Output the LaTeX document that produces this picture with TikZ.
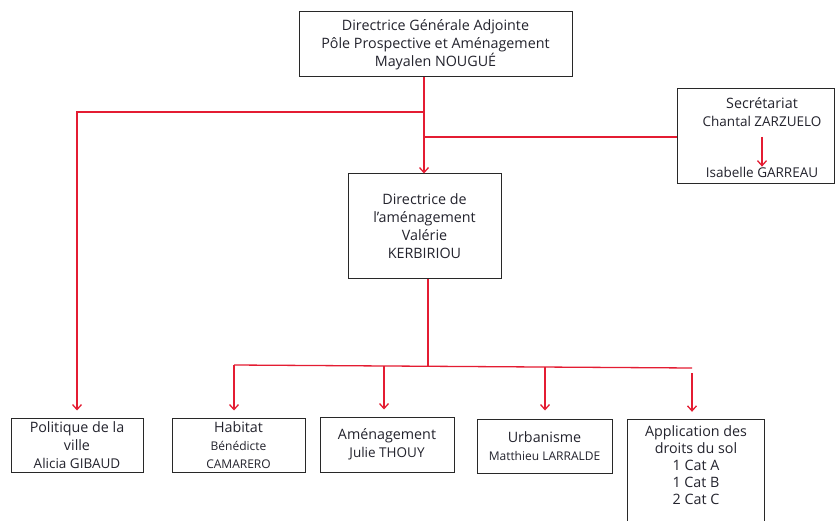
\documentclass[tikz,border=0pt]{standalone}
\usepackage{fontspec}
\setmainfont{Open Sans}
\usetikzlibrary{arrows.meta}
\definecolor{cred}{RGB}{228,28,50}
\definecolor{ctext}{RGB}{35,35,45}
\definecolor{cbox}{RGB}{40,40,40}
\tikzset{
  boxnode/.style={draw=cbox, line width=1pt, inner sep=0pt, align=center, text=ctext,
    font=\fontsize{14.3}{18}\selectfont},
  txtnode/.style={inner sep=0pt, align=center, text=ctext, font=\fontsize{14.3}{18}\selectfont},
  redline/.style={draw=cred, line width=1.3pt},
  redarrow/.style={draw=cred, line width=1.3pt, -{Straight Barb[length=5pt,width=9pt,line width=1.3pt]}},
}
\newcommand{\sm}[1]{{\fontsize{13.5}{18}\selectfont #1}}
\newcommand{\smm}[1]{{\fontsize{12}{18}\selectfont #1}}
\begin{document}
\begin{tikzpicture}[x=1pt,y=-1pt]
\useasboundingbox[fill=white] (0,0) rectangle (838,521);
% boxes
\node[boxnode, minimum width=273, minimum height=65] (top) at (435.5,44.5)
  {Directrice Générale Adjointe\\Pôle Prospective et Aménagement\\Mayalen NOUGUÉ};
\node[boxnode, minimum width=157, minimum height=95] (sec) at (755.5,136.5) {};
\node[txtnode] (sec1) at (762,112) {Secrétariat\\\sm{Chantal ZARZUELO}};
\node[txtnode] (sec2) at (762,172) {\sm{Isabelle GARREAU}};
\node[boxnode, minimum width=153, minimum height=105] (dir) at (424.5,226.5)
  {Directrice de\\l’aménagement\\Valérie\\KERBIRIOU};
\node[boxnode, minimum width=132, minimum height=54] (pol) at (77,445)
  {Politique de la\\ville\\\sm{Alicia GIBAUD}};
\node[boxnode, minimum width=133, minimum height=54] (hab) at (238.5,445)
  {Habitat\\\smm{Bénédicte}\\\smm{CAMARERO}};
\node[boxnode, minimum width=134, minimum height=55] (amen) at (387,444.5)
  {Aménagement\\\sm{Julie THOUY}};
\node[boxnode, minimum width=135, minimum height=54] (urb) at (544.5,446)
  {Urbanisme\\\smm{Matthieu LARRALDE}};
\node[inner sep=0pt, minimum width=136, minimum height=101] (app) at (696,470.5) {};
\draw[draw=cbox, line width=1pt] (app.south west) -- (app.north west) -- (app.north east) -- (app.south east);
\node[txtnode, font=\fontsize{14.3}{17}\selectfont] (appt) at (696,465.5)
  {Application des\\droits du sol\\1 Cat A\\1 Cat B\\2 Cat C};
% junctions
\coordinate (j1) at (424,112);
\coordinate (j2) at (424,137);
\coordinate (s1) at (762,137);
\coordinate (b0) at (428,366);
\coordinate (bl) at (234,365);
\coordinate (br) at (692,368);
\coordinate (b1) at (234,365);
\coordinate (b2) at (384,366);
\coordinate (b3) at (545,367);
\coordinate (b4) at (692,373);
% connectors
\draw[redarrow] (top.south -| j1) -- (dir.north -| j1);
\draw[redarrow, shorten >=7pt] (j1) -| (pol.north);
\draw[redline] (j2) -- (sec.west |- j2);
\draw[redarrow] (s1) -- (sec2.north -| s1);
\draw[redline] (dir.south -| b0) -- (b0);
\draw[redline] (bl) -- (br);
\draw[redarrow, shorten >=7pt] (b1) -- (hab.north -| b1);
\draw[redarrow, shorten >=7pt] (b2) -- (amen.north -| b2);
\draw[redarrow, shorten >=8pt] (b3) -- (urb.north -| b3);
\draw[redarrow, shorten >=8pt] (b4) -- (app.north -| b4);
\end{tikzpicture}
\end{document}
